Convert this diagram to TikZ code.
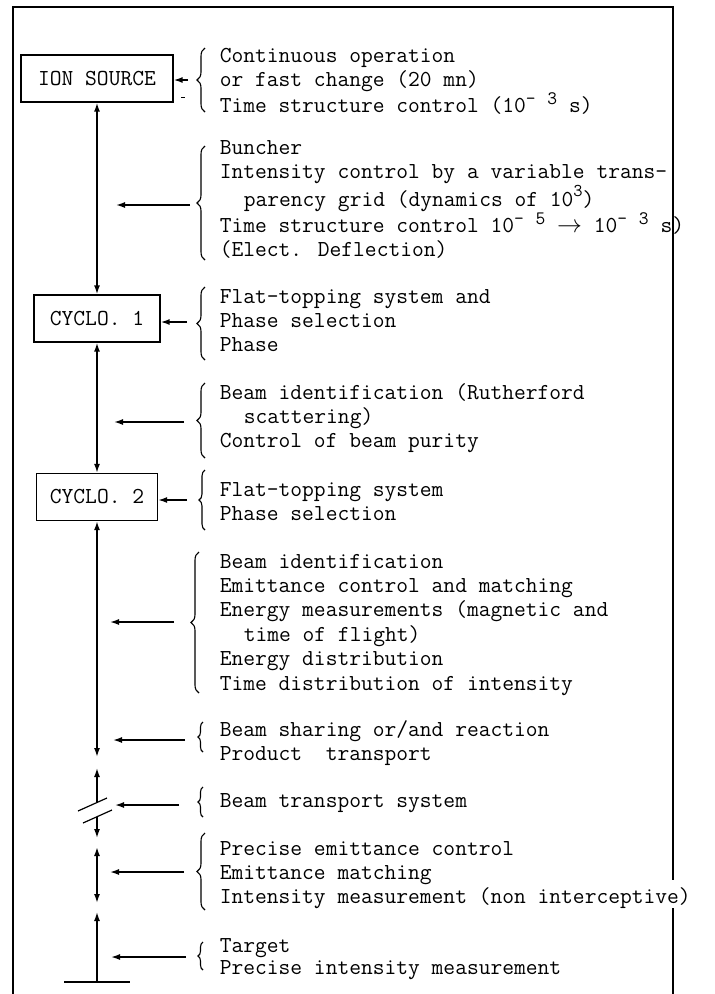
\documentclass[tikz,border=0pt]{standalone}
\usepackage{fontspec}
\usetikzlibrary{arrows.meta,decorations.pathreplacing}

\newcommand{\up}[1]{\raisebox{8pt}{\fontsize{19}{19}\selectfont #1}}
\newcommand{\ind}{\hspace*{24pt}}

\begin{document}
\begin{tikzpicture}[x=1pt,y=-1pt,line width=1.6pt,
  font=\ttfamily\fontsize{22.86}{24.4}\selectfont,
  every node/.style={inner sep=0pt},
  unit/.style={draw,line width=1.3pt,minimum height=47pt},
  txt/.style={anchor=base west,align=left},
  brc/.style={decorate,decoration={brace,amplitude=#1},line width=1.1pt},
  brc/.default=8pt,
  feed/.style={line width=1.5pt,-{Latex[length=9pt,width=6pt]}},
  beam/.style={{Latex[length=9pt,width=6pt]}-{Latex[length=9pt,width=6pt]}}]
\useasboundingbox (0,0) rectangle (715,994);

% frame
\draw (13,994) -- (13,7) -- (673,7) -- (673,880);
\draw (673,908) -- (673,994);

% machines
\node[unit,minimum width=152pt] (src) at (97,78.5)  {ION SOURCE};
\node[unit,minimum width=126pt] (c_1) at (97,318.5) {CYCLO. 1};
\node[unit,minimum width=121pt] (c_2) at (97,497)   {CYCLO. 2};

% points on the beam line
\coordinate (s_1) at (97,757);
\coordinate (s_2) at (97,768);
\coordinate (k_1) at (97,803);
\coordinate (k_2) at (97,817);
\coordinate (s_3) at (97,838);
\coordinate (s_4) at (97,847);
\coordinate (s_5) at (97,903);
\coordinate (s_6) at (97,912);
\coordinate (tgt) at (97,982);

\draw[beam] (src) -- (c_1);
\draw[beam] (c_1) -- (c_2);
\draw[beam] (c_2) -- (s_1);
\draw[feed] (k_1) -- (s_2);
\draw[feed] (k_2) -- (s_3);
\draw[beam] (s_4) -- (s_5);
\draw[feed] (tgt) -- (s_6);
\draw ([xshift=-33pt]tgt) -- ([xshift=33pt]tgt);
\draw[line width=1.2pt] ([shift={(-19,8)}]k_1) -- ([shift={(10,-5)}]k_1);
\draw[line width=1.2pt] ([shift={(-14,6)}]k_2) -- ([shift={(15,-7)}]k_2);

% texts (base = last line)
\node[txt] (t_1) at (219,112.8) {Continuous operation\\or fast change (20 mn)\\Time structure control (10\up{-}~\up{3} s)};
\node[txt] (t_2) at (219,256.6) {Buncher\\Intensity control by a variable trans-\\\ind parency grid (dynamics of 10\raisebox{10pt}{\fontsize{18}{18}\selectfont 3})\\Time structure control 10\up{-}~\up{5}~$\rightarrow$~10\up{-}~\up{3}~s)\\(Elect. Deflection)};
\node[txt] (t_3) at (219,351.8) {Flat-topping system and\\Phase selection\\Phase};
\node[txt] (t_4) at (219,447.8) {Beam identification (Rutherford\\\ind scattering)\\Control of beam purity};
\node[txt] (t_5) at (219,520.4) {Flat-topping system\\Phase selection};
\node[txt] (t_6) at (219,690) {Beam identification\\Emittance control and matching\\Energy measurements (magnetic and\\\ind time of flight)\\Energy distribution\\Time distribution of intensity};
\node[txt] (t_7) at (219,760.4) {Beam sharing or/and reaction\\Product~~transport};
\node[txt] (t_8) at (219,807) {Beam transport system};
\node[txt] (t_9) at (219,903.8) {Precise emittance control\\Emittance matching\\Intensity measurement (non interceptive)};
\node[txt,font=\ttfamily\fontsize{22.86}{22.5}\selectfont] (t_10) at (219,974.5) {Target\\Precise intensity measurement};

% braces
\draw[brc] (205,112) -- (205,48);
\draw[brc] (205,260) -- (205,146);
\draw[brc] (205,360) -- (205,287);
\draw[brc] (205,458) -- (205,383);
\draw[brc=6pt] (205,530) -- (205,470);
\draw[brc] (199,693) -- (199,552);
\draw[brc=5pt] (203,752) -- (203,722);
\draw[brc=5pt] (203,817) -- (203,787);
\draw[brc] (205,910) -- (205,833);
\draw[brc=5pt] (203,970) -- (203,942);

% feeds into the line
\coordinate (b_1) at (188,80);
\coordinate (b_2) at (190,205);  \coordinate (a_2) at (116,205);
\coordinate (b_3) at (187,322);
\coordinate (b_4) at (184,422);  \coordinate (a_4) at (114,422);
\coordinate (b_5) at (187,500);
\coordinate (b_6) at (174,622);  \coordinate (a_6) at (110,622);
\coordinate (b_7) at (185,740);  \coordinate (a_7) at (113,740);
\coordinate (b_8) at (179,805);  \coordinate (a_8) at (115,805);
\coordinate (b_9) at (184,872);  \coordinate (a_9) at (110,872);
\coordinate (b_10) at (186,957); \coordinate (a_10) at (111,957);

\draw[feed] (b_1) -- (b_1 -| src.east);
\draw[feed] (b_2) -- (a_2);
\draw[feed] (b_3) -- (b_3 -| c_1.east);
\draw[feed] (b_4) -- (a_4);
\draw[feed] (b_5) -- (b_5 -| c_2.east);
\draw[feed] (b_6) -- (a_6);
\draw[feed] (b_7) -- (a_7);
\draw[feed] (b_8) -- (a_8);
\draw[feed] (b_9) -- (a_9);
\draw[feed] (b_10) -- (a_10);
\draw[line width=1pt] (181,97) -- (185,97);
\end{tikzpicture}
\end{document}
